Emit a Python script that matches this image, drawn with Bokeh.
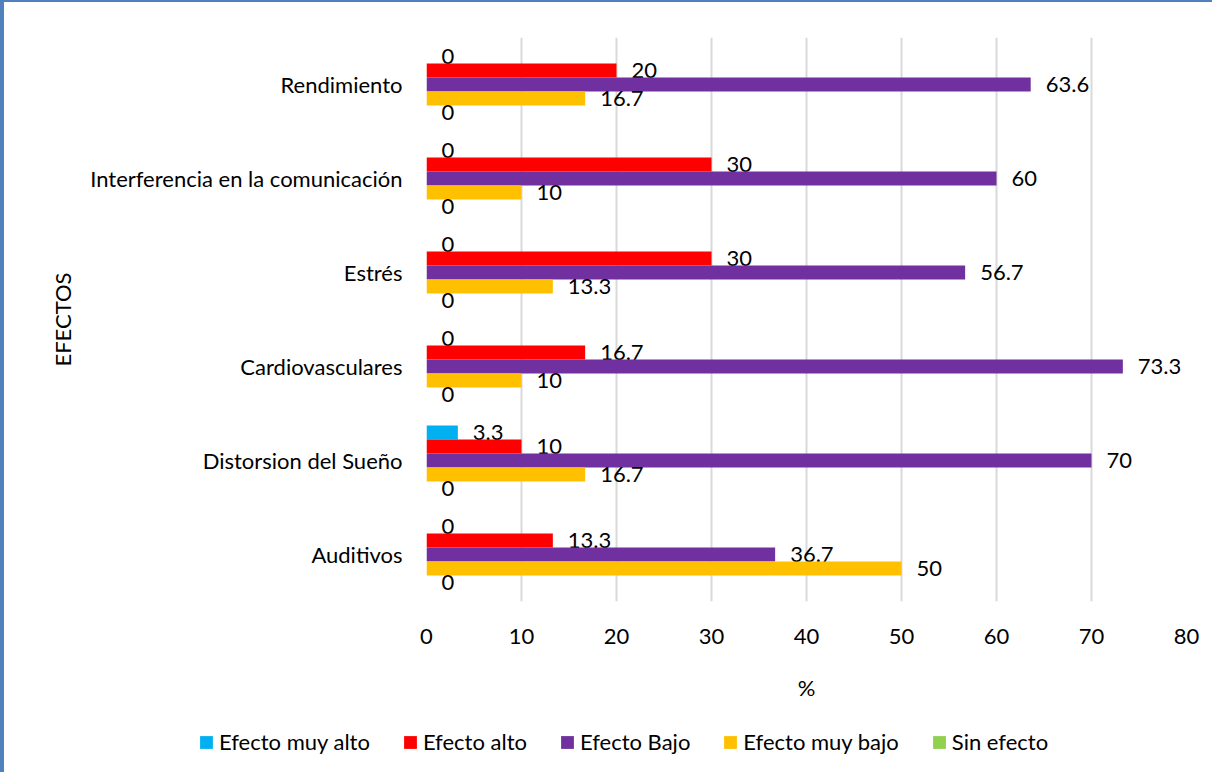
from bokeh.plotting import figure
from bokeh.models import ColumnDataSource, FactorRange, Range1d, Legend, LegendItem, FixedTicker
from bokeh.transform import dodge
from bokeh.core.properties import value
from bokeh.embed import file_html
from bokeh.resources import INLINE

categories = ["Rendimiento", "Interferencia en la comunicación", "Estrés",
              "Cardiovasculares", "Distorsion del Sueño", "Auditivos"]
series_names = ["Efecto muy alto", "Efecto alto", "Efecto Bajo", "Efecto muy bajo", "Sin efecto"]
muy_alto = [0, 0, 0, 0, 3.3, 0]
alto = [20, 30, 30, 16.7, 10, 13.3]
bajo = [63.6, 60, 56.7, 73.3, 70, 36.7]
muy_bajo = [16.7, 10, 13.3, 10, 16.7, 50]
sin_efecto = [0, 0, 0, 0, 0, 0]
x_ticks = [0, 10, 20, 30, 40, 50, 60, 70, 80]

colors = ["#00B0F0", "#FF0000", "#7030A0", "#FFC000", "#92D050"]
series_vals = [muy_alto, alto, bajo, muy_bajo, sin_efecto]
bh = 0.149
offsets = [2 * bh, bh, 0, -bh, -2 * bh]
FONT = "Lato"
FS = "22px"
BORDER = "#4F81BD"

p = figure(width=1212, height=712, output_backend="svg", toolbar_location=None,
           y_range=FactorRange(factors=list(reversed(categories)), range_padding=0),
           x_range=Range1d(0, 80),
           min_border_left=422, min_border_right=30, min_border_top=35, min_border_bottom=113)
p.outline_line_color = None
p.styles = {"border-top": "2px solid " + BORDER, "border-left": "4px solid " + BORDER}

for name, vals, col, off in zip(series_names, series_vals, colors, offsets):
    src = ColumnDataSource(dict(cat=categories, v=vals,
                                lbl=[("%g" % v) for v in vals]))
    p.hbar(y=dodge("cat", off, range=p.y_range), right="v", left=0, height=bh,
           source=src, color=col, line_color=None)
    p.text(x="v", y=dodge("cat", off, range=p.y_range), text="lbl", source=src,
           x_offset=15, text_baseline="middle", text_align="left",
           text_font=value(FONT), text_font_size=FS, text_color="#000000")

p.xaxis.ticker = FixedTicker(ticks=x_ticks)
p.xaxis.axis_line_color = None
p.xaxis.major_tick_line_color = None
p.xaxis.minor_tick_line_color = None
p.xaxis.major_label_standoff = 21
p.xaxis.major_label_text_font = FONT
p.xaxis.major_label_text_font_size = FS
p.xaxis.major_label_text_color = "#000000"
p.xaxis.axis_label = "%"
p.xaxis.axis_label_standoff = 27
p.xaxis.axis_label_text_font = FONT
p.xaxis.axis_label_text_font_size = FS
p.xaxis.axis_label_text_font_style = "normal"
p.xaxis.axis_label_text_color = "#000000"

p.yaxis.axis_line_color = None
p.yaxis.major_tick_line_color = None
p.yaxis.minor_tick_line_color = None
p.yaxis.major_label_standoff = 18
p.yaxis.major_label_text_font = FONT
p.yaxis.major_label_text_font_size = FS
p.yaxis.major_label_text_color = "#000000"
p.yaxis.axis_label = "EFECTOS"
p.yaxis.axis_label_standoff = 11
p.yaxis.axis_label_text_font = FONT
p.yaxis.axis_label_text_font_size = FS
p.yaxis.axis_label_text_font_style = "normal"
p.yaxis.axis_label_text_color = "#000000"

p.ygrid.grid_line_color = None
p.xgrid.grid_line_color = "#D9D9D9"
p.xgrid.grid_line_width = 2

# legend strip below the chart (separate root so its frame spans the full width)
pl = figure(width=1212, height=60, output_backend="svg", toolbar_location=None,
            x_range=Range1d(0, 1), y_range=Range1d(0, 1),
            x_axis_location=None, y_axis_location=None,
            min_border_left=0, min_border_right=0, min_border_top=0, min_border_bottom=0)
pl.outline_line_color = None
pl.xgrid.visible = False
pl.ygrid.visible = False
pl.styles = {"border-left": "4px solid " + BORDER}
items = []
for name, col in zip(series_names, colors):
    r = pl.rect(x=[0], y=[0], width=0, height=0, fill_color=col, line_color=None)
    items.append(LegendItem(label=name, renderers=[r]))
legend = Legend(items=items, orientation="horizontal", location=(194, 17),
                glyph_width=16, glyph_height=16, label_standoff=5, spacing=32,
                padding=0, margin=0, border_line_color=None, background_fill_alpha=0,
                label_text_font=FONT, label_text_font_size=FS, label_text_color="#000000")
pl.add_layout(legend, "center")

open("out.html", "w").write(file_html([p, pl], INLINE))
